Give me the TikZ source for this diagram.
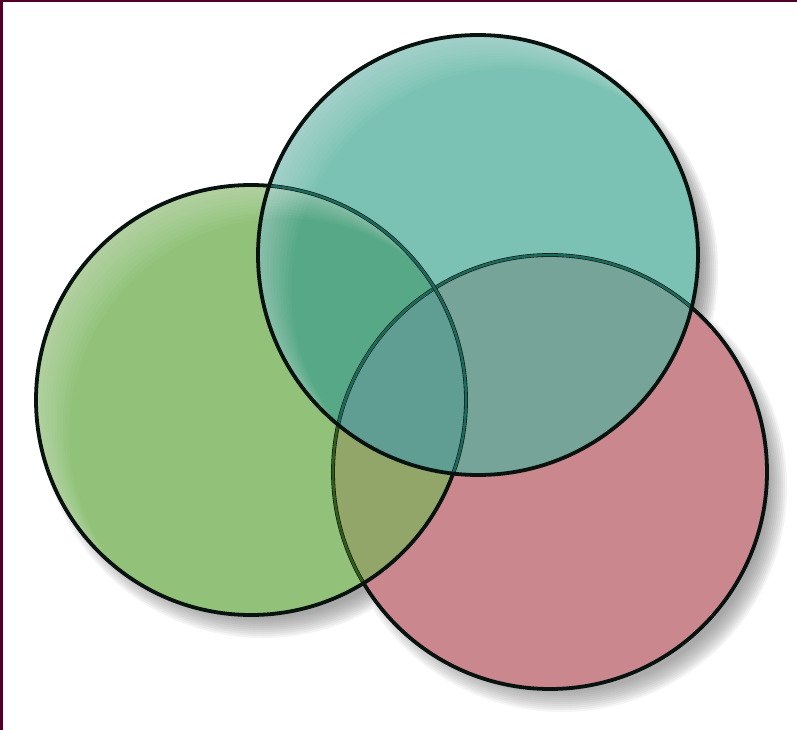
\documentclass[tikz,border=0pt]{standalone}
\definecolor{frame}{RGB}{80,0,40}
\definecolor{cgreen}{RGB}{146,194,122}
\definecolor{cteal}{RGB}{124,194,180}
\definecolor{cred}{RGB}{202,135,142}
\definecolor{cgt}{RGB}{86,168,134}
\definecolor{ctr}{RGB}{118,164,152}
\definecolor{cgr}{RGB}{146,166,106}
\definecolor{call}{RGB}{96,158,148}
\definecolor{lteal}{RGB}{28,104,90}
\definecolor{lgreen}{RGB}{48,92,24}
\definecolor{outline}{RGB}{8,18,14}
\definecolor{shade}{RGB}{90,95,100}
\tikzset{
  outer/.style={draw=outline, line width=3.8pt},
  inner/.style={line width=2.6pt}
}
\begin{document}
\begin{tikzpicture}[x=1pt,y=-1pt]
\useasboundingbox (0,0) rectangle (797,730);
\fill[white] (0,0) rectangle (797,730);
\coordinate (G) at (251,400);
\coordinate (T) at (478,255);
\coordinate (R) at (550,472);
% shadow
\foreach \k in {0,2,...,20} {
  \fill[shade, opacity=0.04]
    ([shift={(12,15)}]G) circle[radius=203+\k]
    ([shift={(12,15)}]T) circle[radius=208+\k]
    ([shift={(12,15)}]R) circle[radius=205+\k];
}
% base fills
\fill[cred] (R) circle[radius=217];
\fill[cgreen] (G) circle[radius=215];
\fill[cteal] (T) circle[radius=220];
% pairwise intersections
\begin{scope}
  \clip (G) circle[radius=215];
  \fill[cgr] (R) circle[radius=217];
  \fill[cgt] (T) circle[radius=220];
  \clip (T) circle[radius=220];
  \fill[call] (R) circle[radius=217];
\end{scope}
\begin{scope}
  \clip (T) circle[radius=220];
  \begin{scope}[even odd rule]
    \clip (G) circle[radius=215] (0,0) rectangle (797,730);
    \fill[ctr] (R) circle[radius=217];
  \end{scope}
\end{scope}
% highlights
\begin{scope}
  \clip (G) circle[radius=215];
  \foreach \s in {3,6,...,33} {
    \fill[white, opacity=0.035, even odd rule]
      (G) circle[radius=215] ([shift={(\s,\s)}]G) circle[radius=215];
  }
\end{scope}
\begin{scope}
  \clip (T) circle[radius=220];
  \foreach \s in {3,6,...,33} {
    \fill[white, opacity=0.035, even odd rule]
      (T) circle[radius=220] ([shift={(\s,\s)}]T) circle[radius=220];
  }
\end{scope}
% red outline
\draw[outer] (R) circle[radius=217];
\begin{scope}
  \clip (G) circle[radius=215];
  \draw[inner, draw=lgreen] (R) circle[radius=217];
\end{scope}
\begin{scope}
  \clip (T) circle[radius=220];
  \draw[inner, draw=lteal] (R) circle[radius=217];
\end{scope}
% green outline
\draw[outer] (G) circle[radius=215];
\begin{scope}
  \clip (T) circle[radius=220];
  \draw[inner, draw=lteal] (G) circle[radius=215];
\end{scope}
% teal outline
\draw[outer] (T) circle[radius=220];
% frame
\fill[frame] (0,0) rectangle (3,730);
\fill[frame] (0,0) rectangle (797,2);
\end{tikzpicture}
\end{document}
